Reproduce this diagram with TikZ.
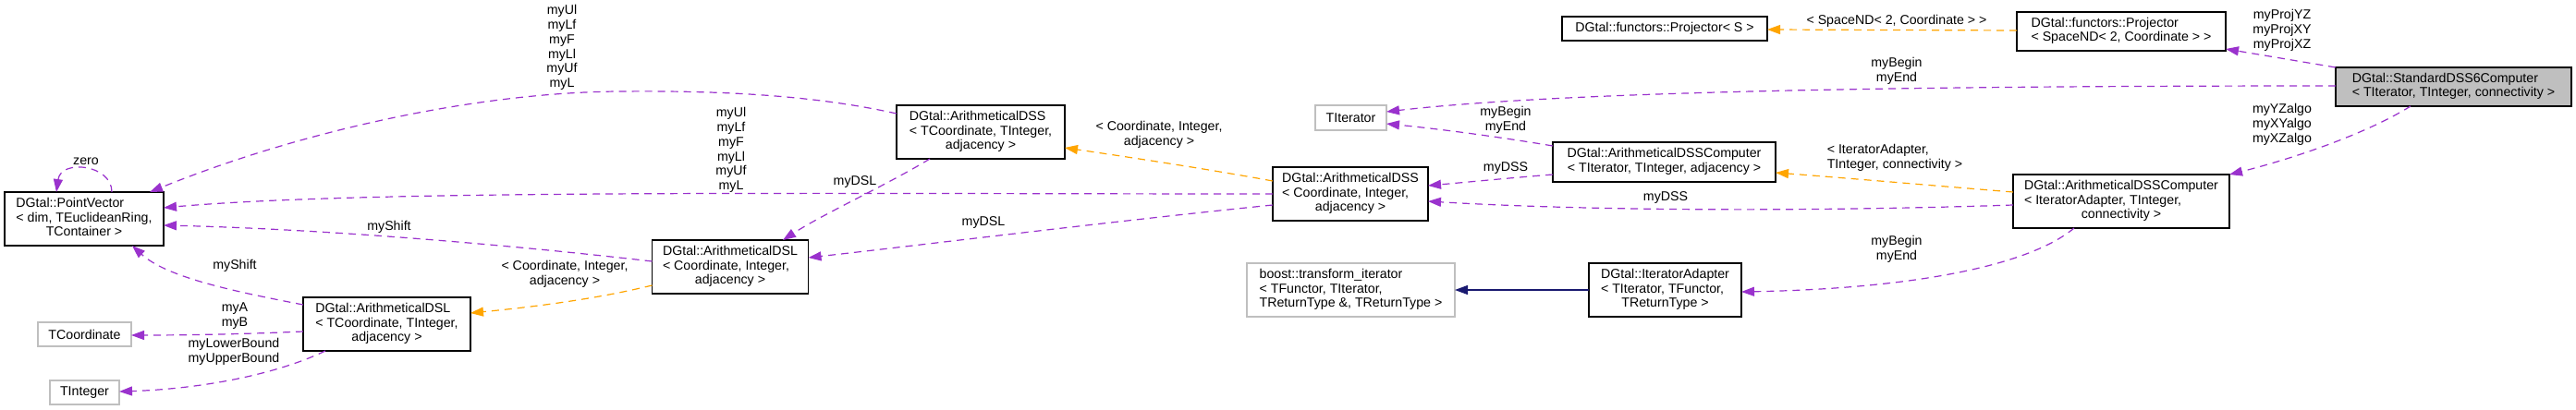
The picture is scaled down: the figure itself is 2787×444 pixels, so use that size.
\documentclass[tikz,border=0pt]{standalone}
\usepackage{fontspec}
\setmainfont{Liberation Sans}
\usetikzlibrary{arrows.meta}
\definecolor{edgepurple}{HTML}{9A32CD}
\definecolor{edgeorange}{HTML}{FFA500}
\definecolor{edgenavy}{HTML}{191970}
\definecolor{boxgray}{HTML}{BFBFBF}
\newcommand{\dlines}[1]{\begin{tabular}{@{}l@{}}#1\end{tabular}}
\newcommand{\dlast}[1]{\multicolumn{1}{@{}c@{}}{#1}}
\begin{document}
\begin{tikzpicture}[x=1pt,y=-1pt,
  every node/.style={font=\fontsize{14.2}{15.7}\selectfont, inner sep=0pt, outer sep=0pt},
  cls/.style={draw=black, line width=1.3pt, fill=white},
  ext/.style={draw=boxgray, line width=1.3pt, fill=white},
  main/.style={draw=black, line width=1.3pt, fill=boxgray},
  lbl/.style={align=center},
  tip/.style={-{Triangle[length=14pt,width=10pt]}},
  pedge/.style={draw=edgepurple, line width=1.2pt, dash pattern=on 8pt off 6pt, tip},
  oedge/.style={draw=edgeorange, line width=1.2pt, dash pattern=on 8pt off 6pt, tip},
  nedge/.style={draw=edgenavy, line width=1.2pt, tip}]
\fill[white] (0,0) rectangle (2787,444);
\useasboundingbox (0,0) rectangle (2787,444);

% nodes
\node[cls, minimum width=172pt, minimum height=58pt] (PV) at (91,237)
  {\dlines{DGtal::PointVector\\< dim, TEuclideanRing,\\\dlast{TContainer >}}};
\node[ext, minimum width=101pt, minimum height=26pt] (TCo) at (91.5,362) {TCoordinate};
\node[ext, minimum width=75pt, minimum height=26pt] (TInt) at (91.5,425) {TInteger};
\node[cls, minimum width=181pt, minimum height=58pt] (DSLT) at (418.5,351)
  {\dlines{DGtal::ArithmeticalDSL\\< TCoordinate, TInteger,\\\dlast{adjacency >}}};
\node[cls, minimum width=169pt, minimum height=58pt] (DSLC) at (790,289)
  {\dlines{DGtal::ArithmeticalDSL\\< Coordinate, Integer,\\\dlast{adjacency >}}};
\node[cls, minimum width=182pt, minimum height=58pt] (DSST) at (1061,143)
  {\dlines{DGtal::ArithmeticalDSS\\< TCoordinate, TInteger,\\\dlast{adjacency >}}};
\node[cls, minimum width=168pt, minimum height=58pt] (DSSC) at (1461,210)
  {\dlines{DGtal::ArithmeticalDSS\\< Coordinate, Integer,\\\dlast{adjacency >}}};
\node[ext, minimum width=77pt, minimum height=27pt] (TIt) at (1461.5,127.5) {TIterator};
\node[cls, minimum width=241pt, minimum height=43pt] (DCT) at (1800.5,175.5)
  {\dlines{DGtal::ArithmeticalDSSComputer\\\dlast{< TIterator, TInteger, adjacency >}}};
\node[cls, minimum width=222pt, minimum height=26pt] (PS) at (1801,31) {DGtal::functors::Projector< S >};
\node[cls, minimum width=226pt, minimum height=42pt] (PSp) at (2295,34)
  {\dlines{DGtal::functors::Projector\\\dlast{< SpaceND< 2, Coordinate > >}}};
\node[main, minimum width=255pt, minimum height=42pt] (Std) at (2654.5,94)
  {\dlines{DGtal::StandardDSS6Computer\\\dlast{< TIterator, TInteger, connectivity >}}};
\node[cls, minimum width=234pt, minimum height=58pt] (DCIA) at (2295,218)
  {\dlines{DGtal::ArithmeticalDSSComputer\\< IteratorAdapter, TInteger,\\\dlast{connectivity >}}};
\node[ext, minimum width=225pt, minimum height=58pt] (Boost) at (1461.5,314)
  {\dlines{boost::transform\_iterator\\< TFunctor, TIterator,\\\dlast{TReturnType \&, TReturnType >}}};
\node[cls, minimum width=165pt, minimum height=58pt] (IA) at (1801.5,314)
  {\dlines{DGtal::IteratorAdapter\\< TIterator, TFunctor,\\\dlast{TReturnType >}}};

% edges
\draw[pedge] ([xshift=30pt]PV.north) .. controls (121,178) and (66,172) .. ([xshift=-30pt]PV.north);
\draw[pedge] ([yshift=20pt]DSST.west) .. controls (880,103) and (780,98) .. (670,99)
  .. controls (520,100) and (330,140) .. ([xshift=71pt]PV.north);
\draw[pedge] (DSSC.west) .. controls (900,210) and (400,205) .. ([yshift=12pt]PV.east);
\draw[pedge] ([yshift=6pt]DSLC.west) .. controls (550,265) and (350,248) .. ([yshift=-7pt]PV.east);
\draw[pedge] ([yshift=21pt]DSLT.west) .. controls (250,315) and (180,300) .. ([xshift=52pt]PV.south);
\draw[pedge] ([yshift=-8pt]DSLT.west) .. controls (260,362) and (200,363) .. ([yshift=-1pt]TCo.east);
\draw[pedge] ([xshift=-66.5pt]DSLT.south) .. controls (300,405) and (220,421) .. ([yshift=1pt]TInt.east);
\draw[oedge] ([yshift=-20pt]DSLC.west) .. controls (640,325) and (570,333) .. ([yshift=12pt]DSLT.east);
\draw[pedge] ([xshift=-55pt]DSST.south) .. controls (960,200) and (890,232) .. ([xshift=57pt]DSLC.north);
\draw[pedge] ([yshift=-12pt]DSSC.west) .. controls (1200,240) and (1000,265) .. ([yshift=10pt]DSLC.east);
\draw[oedge] ([yshift=14pt]DSSC.west) .. controls (1300,182) and (1220,170) .. ([yshift=-17pt]DSST.east);
\draw[pedge] ([yshift=17.5pt]DCT.west) .. controls (1620,148) and (1560,140) .. ([yshift=-6.5pt]TIt.east);
\draw[pedge] ([yshift=-13.5pt]DCT.west) .. controls (1630,193) and (1590,197) .. ([yshift=9pt]DSSC.east);
\draw[pedge] ([yshift=1pt]Std.west) .. controls (2100,93) and (1700,98) .. ([yshift=6.5pt]TIt.east);
\draw[pedge] (Std.north west) -- ([yshift=2pt]PSp.south east);
\draw[pedge] ([xshift=-46.5pt]Std.south) .. controls (2560,145) and (2480,172) .. (DCIA.north east);
\draw[oedge] ([yshift=1pt]PSp.west) -- ([yshift=-1pt]PS.east);
\draw[oedge] ([yshift=10pt]DCIA.west) .. controls (2080,200) and (2000,193) .. ([yshift=-11.5pt]DCT.east);
\draw[pedge] ([yshift=-4pt]DCIA.west) .. controls (2000,228) and (1750,230) .. ([yshift=-8pt]DSSC.east);
\draw[pedge] ([xshift=-51pt]DCIA.south) .. controls (2190,292) and (2050,313) .. ([yshift=-2pt]IA.east);
\draw[nedge] (IA.west) -- (Boost.east);

% edge labels
\node[lbl] (lzero) at (93,175) {zero};
\node[lbl] (lpv1) at (608,51.5) {myUl\\myLf\\myF\\myLl\\myUf\\myL};
\node[lbl] (lpv2) at (791,162.5) {myUl\\myLf\\myF\\myLl\\myUf\\myL};
\node[lbl] (lshift1) at (421,246) {myShift};
\node[lbl] (lshift2) at (254,288) {myShift};
\node[lbl] (lab) at (254,342) {myA\\myB};
\node[lbl] (lbound) at (253,381) {myLowerBound\\myUpperBound};
\node[lbl] (ltpl1) at (611,296.5) {< Coordinate, Integer,\\adjacency >};
\node[lbl] (ltpl2) at (1254,146) {< Coordinate, Integer,\\adjacency >};
\node[lbl] (ldsl1) at (925,197) {myDSL};
\node[lbl] (ldsl2) at (1064,241) {myDSL};
\node[lbl] (lbe1) at (1629,129.5) {myBegin\\myEnd};
\node[lbl] (ldss1) at (1629,182) {myDSS};
\node[lbl] (ldss2) at (1802,214) {myDSS};
\node[lbl] (lbe2) at (2052,76.5) {myBegin\\myEnd};
\node[lbl] (lproj) at (2469,33) {myProjYZ\\myProjXY\\myProjXZ};
\node[lbl] (lalgo) at (2469,135) {myYZalgo\\myXYalgo\\myXZalgo};
\node[lbl] (lspace) at (2052,23) {< SpaceND< 2, Coordinate > >};
\node[align=left] (lia) at (2050,171) {< IteratorAdapter,\\TInteger, connectivity >};
\node[lbl] (lbe3) at (2052,269.5) {myBegin\\myEnd};
\end{tikzpicture}
\end{document}
